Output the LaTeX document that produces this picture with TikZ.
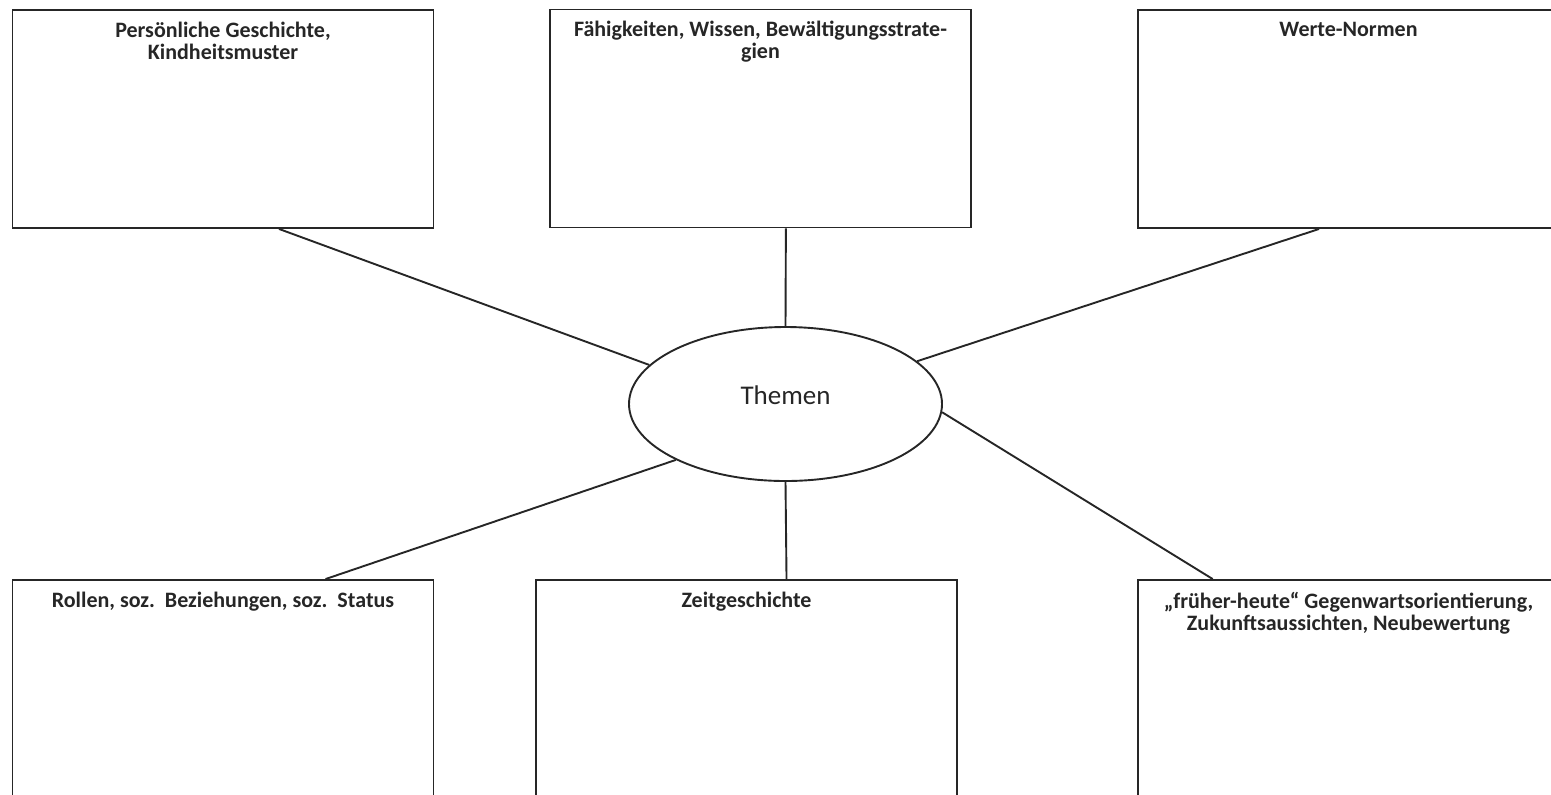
\documentclass[tikz,border=0pt]{standalone}
\usepackage{fontspec}
\setmainfont{Carlito}
\usetikzlibrary{shapes.geometric,positioning}

\begin{document}
\begin{tikzpicture}[
            x = 0.5pt, y = -0.5pt, % one unit is one pixel of the sheet
            box/.style = {draw, rectangle, minimum width = 210.5pt, minimum height = 109pt, inner sep = 0pt},
            title/.style = {font = \bfseries\fontsize{11}{11}\selectfont, align = center, inner sep = 0pt, below = 6pt},
            topic/.style = {draw, ellipse, minimum width = 156.5pt, minimum height = 77pt, inner sep = 0pt,
                            font = \fontsize{13.5}{13.5}\selectfont, text depth = 9pt},
            line width = 0.95pt, % line style
            black!85
        ]

	\useasboundingbox (0,0) rectangle (1551,794);

	\node[topic] (themen) at (785.5,404) {Themen};

	% upper row
	\node[box, label={[title]north:{Persönliche Geschichte,\\Kindheitsmuster}}] (geschichte) at (223,119) {};
	\node[box, label={[title]north:{Fähigkeiten, Wissen, Bewältigungsstrate-\\gien}}] (faehigkeiten) at (760.5,118.5) {};
	\node[box, label={[title]north:{Werte-Normen}}] (werte) at (1348.5,119) {};

	% lower row
	\node[box, label={[title]north:{Rollen, soz.\ \ Beziehungen, soz.\ \ Status}}] (rollen) at (223,689) {};
	\node[box, label={[title]north:{Zeitgeschichte}}] (zeit) at (746.5,689) {};
	\node[box, label={[title]north:{„früher-heute“ Gegenwartsorientierung,\\Zukunftsaussichten, Neubewertung}}] (zukunft) at (1348.5,689) {};

	\draw (geschichte.-63) -- (themen.164);
	\draw (faehigkeiten.-77) -- (themen.north);
	\draw (werte.-105) -- (themen.18);
	\draw (rollen.47) -- (themen.207);
	\draw (zeit.70) -- (themen.south);
	\draw (zukunft.141) -- (themen.-3);

\end{tikzpicture}
\end{document}
